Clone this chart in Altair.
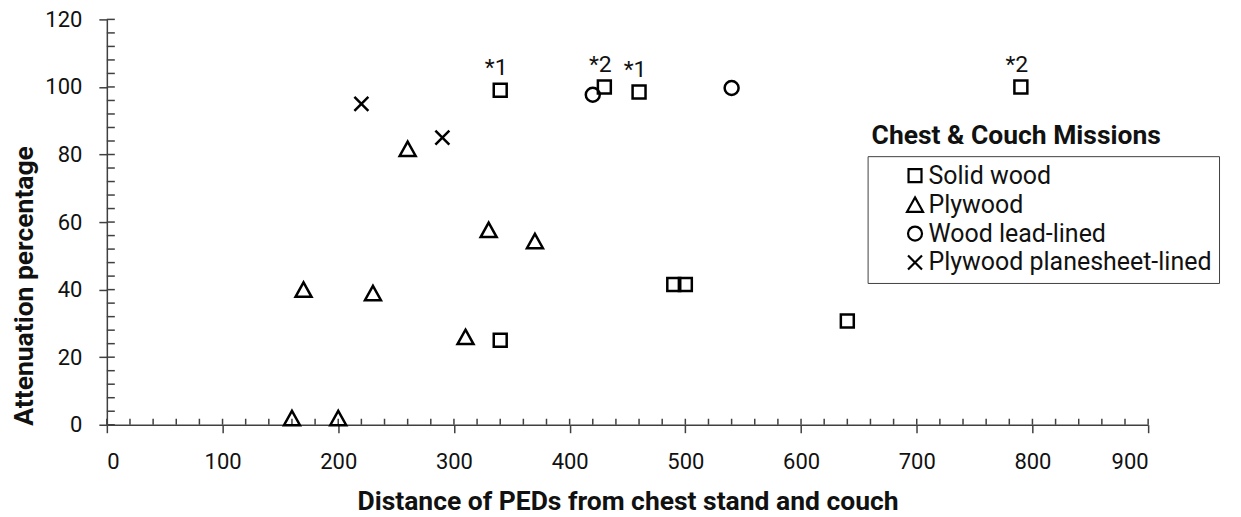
import altair as alt
import pandas as pd

# ---- data ----
solid_x = [340, 430, 460, 790, 490, 500, 640, 340]
solid_y = [99, 100, 98.5, 100, 41.5, 41.5, 30.7, 25]
ply_x = [160, 200, 170, 230, 310, 330, 370, 260]
ply_y = [2, 2, 40, 39, 26, 57.7, 54.4, 81.7]
lead_x = [420, 540]
lead_y = [97.7, 99.7]
plane_x = [220, 290]
plane_y = [95, 85]

annot_x = [340, 430, 460, 790]
annot_y = [99, 100, 98.5, 100]
annot_text = ["*1", "*2", "*1", "*2"]

series_names = ["Solid wood", "Plywood", "Wood lead-lined", "Plywood planesheet-lined"]

x_major = [0, 100, 200, 300, 400, 500, 600, 700, 800, 900]
y_major = [0, 20, 40, 60, 80, 100, 120]
x_minor_step = 20
y_minor_step = 4

rows = []
for name, xs, ys in zip(series_names,
                        [solid_x, ply_x, lead_x, plane_x],
                        [solid_y, ply_y, lead_y, plane_y]):
    for a, b in zip(xs, ys):
        rows.append({"x": a, "y": b, "series": name})
df = pd.DataFrame(rows)
df_annot = pd.DataFrame({"x": annot_x, "y": annot_y, "t": annot_text})
df_xt = pd.DataFrame({"x": list(range(0, 901, x_minor_step))})
df_yt = pd.DataFrame({"y": list(range(0, 121, y_minor_step))})

FONT = "Roboto"
AX = "#404040"

shape_paths = [
    "M-0.81,-0.81H0.81V0.81H-0.81Z",
    "M0,-0.9L1,0.9L-1,0.9Z",
    "M-0.875,0A0.875,0.875,0,1,0,0.875,0A0.875,0.875,0,1,0,-0.875,0Z",
    "M-0.875,-0.875L0.875,0.875M-0.875,0.875L0.875,-0.875",
]

xscale = alt.Scale(domain=[0, 900], nice=False, zero=True)
yscale = alt.Scale(domain=[0, 120], nice=False, zero=True)

xaxis = alt.Axis(values=x_major, title="Distance of PEDs from chest stand and couch",
                 labelPadding=19, titleY=77, titleBaseline="middle", grid=False)
yaxis = alt.Axis(values=y_major, title="Attenuation percentage",
                 labelPadding=17, titleX=-82.7, titleY=266.5, titleBaseline="middle",
                 titleAngle=270, grid=False)

points = alt.Chart(df).mark_point(filled=False, size=256, strokeWidth=2.5,
                                  color="black", opacity=1).encode(
    x=alt.X("x:Q", scale=xscale, axis=xaxis),
    y=alt.Y("y:Q", scale=yscale, axis=yaxis),
    shape=alt.Shape("series:N",
                    scale=alt.Scale(domain=series_names, range=shape_paths),
                    legend=alt.Legend(title=None, orient="none", legendX=762, legendY=137,
                                      padding=7, symbolOffset=28, labelOffset=1,
                                      rowPadding=3, strokeColor=AX, symbolSize=256,
                                      symbolStrokeWidth=2.2, symbolStrokeColor="black",
                                      labelFont=FONT, labelFontSize=25, labelColor="#111",
                                      labelLimit=500)),
)

annots = alt.Chart(df_annot).mark_text(font=FONT, fontSize=23, dx=-4, dy=-22,
                                       color="#111").encode(
    x=alt.X("x:Q", scale=xscale), y=alt.Y("y:Q", scale=yscale), text="t:N")

xticks = alt.Chart(df_xt).mark_tick(orient="vertical", size=6, thickness=1.5,
                                    yOffset=-3, color=AX, opacity=1).encode(
    x=alt.X("x:Q", scale=xscale), y=alt.datum(0, scale=yscale))
yticks = alt.Chart(df_yt).mark_tick(orient="horizontal", size=8, thickness=1.5,
                                    xOffset=4, color=AX, opacity=1).encode(
    y=alt.Y("y:Q", scale=yscale), x=alt.datum(0, scale=xscale))

chart = alt.layer(xticks, yticks, points, annots).properties(
    width=1043, height=406,
    autosize=alt.AutoSizeParams(type="none"),
    padding={"left": 99, "top": 11, "right": 85, "bottom": 90},
    title=alt.TitleParams(text="Chest & Couch Missions", anchor="start", frame="group",
                          offset=0, dx=766, dy=154, baseline="middle", font=FONT,
                          fontSize=26.5, fontWeight="bold", color="#111"),
).configure_view(stroke=None).configure_axis(
    domainColor=AX, domainWidth=1.5, tickColor=AX, tickWidth=1.5, tickSize=8,
    labelFont=FONT, labelFontSize=22, labelColor="#111",
    titleFont=FONT, titleFontSize=26.5, titleFontWeight="bold", titleColor="#111",
)

chart.save("out.html", embed_options={"renderer": "svg", "actions": False})
